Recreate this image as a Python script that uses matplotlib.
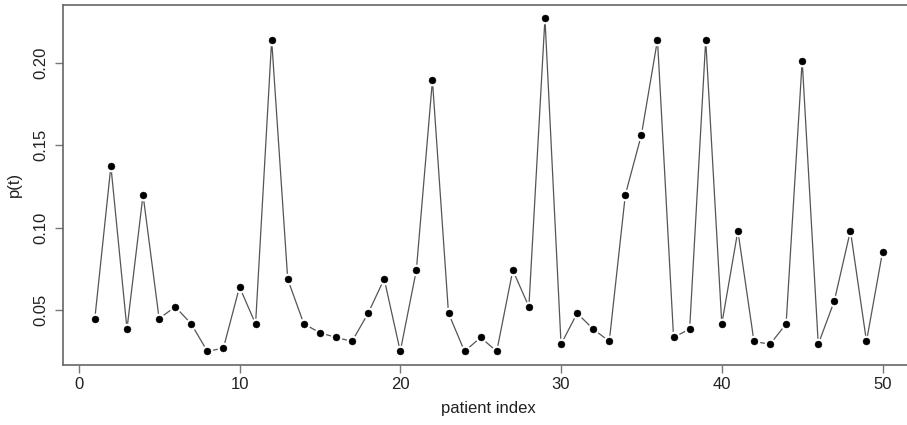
import matplotlib
matplotlib.use("Agg")
import matplotlib.pyplot as plt
import numpy as np

plt.rcParams["font.family"] = ["Liberation Sans", "DejaVu Sans"]

patient = np.arange(1, 51)
p_t = [
    0.0445, 0.1374, 0.0382, 0.1199, 0.0445, 0.0518, 0.0413, 0.0246, 0.0266, 0.0638,
    0.0413, 0.2142, 0.0685, 0.0414, 0.0359, 0.0331, 0.0307, 0.0478, 0.0687, 0.0246,
    0.0740, 0.1896, 0.0478, 0.0246, 0.0331, 0.0246, 0.0740, 0.0518, 0.2274, 0.0289,
    0.0478, 0.0382, 0.0307, 0.1199, 0.1565, 0.2142, 0.0331, 0.0382, 0.2142, 0.0413,
    0.0980, 0.0307, 0.0289, 0.0413, 0.2016, 0.0289, 0.0553, 0.0980, 0.0307, 0.0852,
]
x_ticks = [0, 10, 20, 30, 40, 50]
y_ticks = [0.05, 0.10, 0.15, 0.20]

fig = plt.figure(figsize=(9.07, 4.25), dpi=100)
ax = fig.add_axes([0.0698, 0.1419, 0.938, 0.8466])

# type="b" style: thin line, points with a small gap around them
ax.plot(patient, p_t, color="#555555", lw=0.9, zorder=1)
ax.plot(patient, p_t, ls="none", marker="o", ms=5, color="black",
        mec="white", mew=3.4, zorder=2)
ax.plot(patient, p_t, ls="none", marker="o", ms=5, color="black",
        mec="black", mew=0.3, zorder=3)

# pad data range by 4% like R's default axis style
x_span = patient.max() - patient.min()
y_span = max(p_t) - min(p_t)
ax.set_xlim(patient.min() - 0.04 * x_span, patient.max() + 0.04 * x_span)
ax.set_ylim(min(p_t) - 0.04 * y_span, max(p_t) + 0.04 * y_span)

ax.set_xticks(x_ticks)
ax.set_yticks(y_ticks)
ax.set_yticklabels([f"{v:.2f}" for v in y_ticks], rotation=90, va="center")
ax.tick_params(axis="both", length=6, width=1, color="#777777",
               labelsize=12, labelcolor="#222222")
ax.tick_params(axis="x", pad=3)
ax.tick_params(axis="y", pad=5)

for sp in ax.spines.values():
    sp.set_color("#666666")
    sp.set_linewidth(1.2)

ax.set_xlabel("patient index", fontsize=12, color="#222222", labelpad=6)
ax.set_ylabel("p(t)", fontsize=12, color="#222222", labelpad=8)

fig.savefig("out.png", dpi=100)
